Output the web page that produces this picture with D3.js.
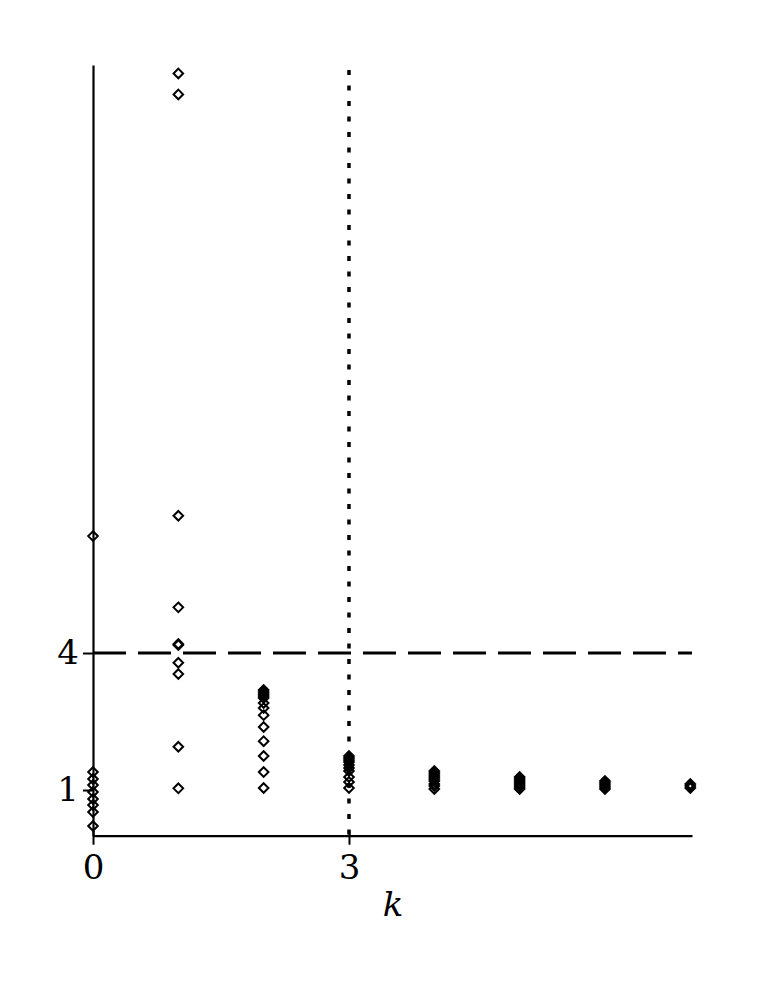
<!DOCTYPE html>
<html>
<head>
<meta charset="utf-8">
<script src="https://cdn.jsdelivr.net/npm/d3@7"></script>
<style>
  body { margin: 0; background: #fff; }
  text { font-family: "DejaVu Serif", serif; }
</style>
</head>
<body>
<script>
// values, one list per k
const k0 = [6.56, 1.394, 1.241, 1.109, 0.956, 0.803, 0.671, 0.518, 0.212];
const k1 = [16.69, 16.23, 7.006, 5.0, 4.197, 4.175, 3.787, 3.54, 1.948, 1.037];
const k2 = [3.19, 3.146, 3.10, 3.058, 3.015, 2.905, 2.795, 2.64, 2.38, 2.07, 1.745, 1.394, 1.044];
const k3 = [1.745, 1.70, 1.657, 1.613, 1.547, 1.48, 1.416, 1.285, 1.175, 1.044];
const k4 = [1.416, 1.372, 1.328, 1.285, 1.241, 1.197, 1.131, 1.087, 1.022];
const k5 = [1.285, 1.241, 1.197, 1.153, 1.109, 1.066, 1.022];
const k6 = [1.197, 1.153, 1.109, 1.066, 1.022];
const k7 = [1.131, 1.087, 1.044];
const allK = [k0, k1, k2, k3, k4, k5, k6, k7];

const xTicks = [0, 3];
const yTicks = [1, 4];
const hLine = 4;   // dashed
const vLine = 3;   // dotted
const xLabel = "k";

const width = 763, height = 987;

const svg = d3.select('body').append('svg')
  .attr('width', width)
  .attr('height', height);

const xScale = d3.scaleLinear().domain([0, 7.02]).range([93, 692]);
const yScale = d3.scaleLinear().domain([0, 16.875]).range([835.7, 65]);

// flatten to points
let points = [];
allK.forEach((vals, k) => {
  vals.forEach(v => points.push({k: k, v: v}));
});

// reference lines
svg.append('line')
  .attr('x1', xScale(0)).attr('x2', xScale(7.02))
  .attr('y1', yScale(hLine)).attr('y2', yScale(hLine))
  .attr('stroke', '#000').attr('stroke-width', 3)
  .attr('stroke-dasharray', '33,12');

svg.append('line')
  .attr('x1', xScale(vLine)).attr('x2', xScale(vLine))
  .attr('y1', 70).attr('y2', yScale(0))
  .attr('stroke', '#000').attr('stroke-width', 3.5)
  .attr('stroke-dasharray', '5,10.5');

// axes
const xAxis = d3.axisBottom(xScale).tickValues(xTicks).tickFormat(d3.format('d'))
  .tickSizeInner(9).tickSizeOuter(0).tickPadding(10);
const yAxis = d3.axisLeft(yScale).tickValues(yTicks).tickFormat(d3.format('d'))
  .tickSizeInner(10).tickSizeOuter(0).tickPadding(4);

const gx = svg.append('g')
  .attr('transform', `translate(0, ${yScale(0)})`)
  .call(xAxis);
gx.selectAll('line').attr('y1', -5).attr('stroke-width', 2);
gx.select('.domain').attr('stroke-width', 2.2);

const gy = svg.append('g')
  .attr('transform', `translate(${xScale(0)}, 0)`)
  .call(yAxis);
gy.selectAll('line').attr('stroke-width', 2);
gy.select('.domain').attr('stroke-width', 2.2);

svg.selectAll('.tick text')
  .attr('font-family', '"DejaVu Serif", serif')
  .attr('font-size', 34)
  .attr('fill', '#000');

gx.selectAll('.tick text').attr('dy', '0.72em');

svg.append('text')
  .attr('x', 393)
  .attr('y', 916)
  .attr('text-anchor', 'middle')
  .attr('font-size', 34)
  .attr('font-style', 'italic')
  .text(xLabel);

// diamonds
const r = 4.8;
svg.selectAll('path.pt')
  .data(points)
  .enter()
  .append('path')
  .attr('class', 'pt')
  .attr('d', d => {
    let cx = xScale(d.k), cy = yScale(d.v);
    return `M${cx},${cy - r}L${cx + r},${cy}L${cx},${cy + r}L${cx - r},${cy}Z`;
  })
  .attr('fill', 'none')
  .attr('stroke', '#000')
  .attr('stroke-width', 2);
</script>
</body>
</html>
